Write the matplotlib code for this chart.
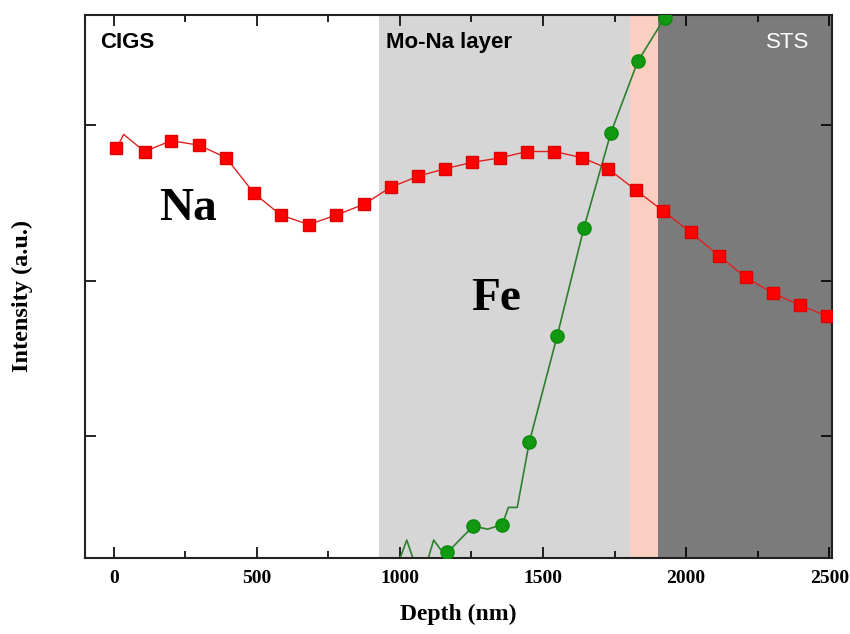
import matplotlib.pyplot as plt

# Na depth profile (markers)
na_depth = [10, 108, 202, 299, 393, 491, 585, 682, 776, 874, 968, 1062, 1159, 1253,
            1351, 1445, 1539, 1637, 1727, 1825, 1918, 2016, 2114, 2208, 2302, 2399, 2493]
na_int = [2.85, 2.83, 2.90, 2.87, 2.79, 2.56, 2.42, 2.36, 2.42, 2.49, 2.60, 2.67, 2.72, 2.76,
          2.79, 2.83, 2.83, 2.79, 2.72, 2.58, 2.45, 2.31, 2.16, 2.02, 1.92, 1.84, 1.77]
# the measured line has one extra point near the start
na_line_depth = [10, 35] + na_depth[1:]
na_line_int = [2.85, 2.94] + na_int[1:]

# Fe profile: markers and the denser measured line
fe_depth = [1166, 1257, 1358, 1452, 1549, 1643, 1737, 1831, 1925]
fe_int = [0.25, 0.42, 0.43, 0.96, 1.64, 2.34, 2.95, 3.41, 3.69]
fe_line_depth = [996, 1024, 1048, 1097, 1118, 1142, 1166, 1219, 1257, 1306, 1358,
                 1379, 1410, 1452, 1549, 1643, 1737, 1831, 1925, 1960]
fe_line_int = [0.19, 0.33, 0.20, 0.20, 0.33, 0.27, 0.25, 0.35, 0.42, 0.40, 0.43,
               0.54, 0.54, 0.96, 1.64, 2.34, 2.95, 3.41, 3.69, 3.85]

# layer boundaries (nm)
layers = [(-100, 927, 'white'), (927, 1805, '#d6d6d6'), (1805, 1900, '#f8cfc0'), (1900, 2510, '#7b7b7b')]

fig = plt.figure(figsize=(8.5, 6.34), dpi=100)
ax = fig.add_axes([0.1, 0.12, 0.879, 0.856])

for x0, x1, c in layers:
    ax.axvspan(x0, x1, color=c, lw=0, zorder=0)

ax.plot(na_line_depth, na_line_int, color='#e02020', lw=1, zorder=2)
ax.plot(na_depth, na_int, 's', color='#ff0000', ms=8, mec='#e00000', zorder=3)
ax.plot(fe_line_depth, fe_line_int, color='#2f7f2f', lw=1.2, zorder=2)
ax.plot(fe_depth, fe_int, 'o', color='#119911', ms=9.5, mec='#0a8a0a', zorder=3)

ax.set_xlim(-100, 2510)
ax.set_ylim(0.215, 3.707)
ax.set_xticks([0, 500, 1000, 1500, 2000, 2500])
ax.set_xticks([250, 750, 1250, 1750, 2250], minor=True)
ax.set_yticks([1, 2, 3])
ax.set_yticklabels([])
ax.tick_params(which='both', direction='in', top=True, right=True, width=1.2)
ax.tick_params(which='major', length=8)
ax.tick_params(which='minor', length=5)
for lab in ax.get_xticklabels():
    lab.set_family('Liberation Serif')
    lab.set_fontweight('bold')
    lab.set_fontsize(14)
ax.tick_params(axis='x', pad=9)
for s in ax.spines.values():
    s.set_linewidth(1.5)
    s.set_color('#222222')

ax.set_xlabel('Depth (nm)', family='Liberation Serif', fontweight='bold', fontsize=17)
ax.xaxis.set_label_coords(0.5, -0.085)
ax.set_ylabel('Intensity (a.u.)', family='Liberation Serif', fontweight='bold', fontsize=17.5)
ax.yaxis.set_label_coords(-0.07, 0.482)

ax.text(0.02, 0.95, 'CIGS', transform=ax.transAxes, fontsize=16, fontweight='bold',
        family='Liberation Sans', va='center', ha='left')
ax.text(0.403, 0.95, 'Mo-Na layer', transform=ax.transAxes, fontsize=16, fontweight='bold',
        family='Liberation Sans', va='center', ha='left')
ax.text(0.97, 0.95, 'STS', transform=ax.transAxes, fontsize=16, color='white',
        family='Liberation Sans', va='center', ha='right')
ax.text(160, 2.46, 'Na', family='Liberation Serif', fontweight='bold', fontsize=34,
        ha='left', va='center')
ax.text(1250, 1.88, 'Fe', family='Liberation Serif', fontweight='bold', fontsize=34,
        ha='left', va='center')

fig.savefig('out.png', dpi=100)
